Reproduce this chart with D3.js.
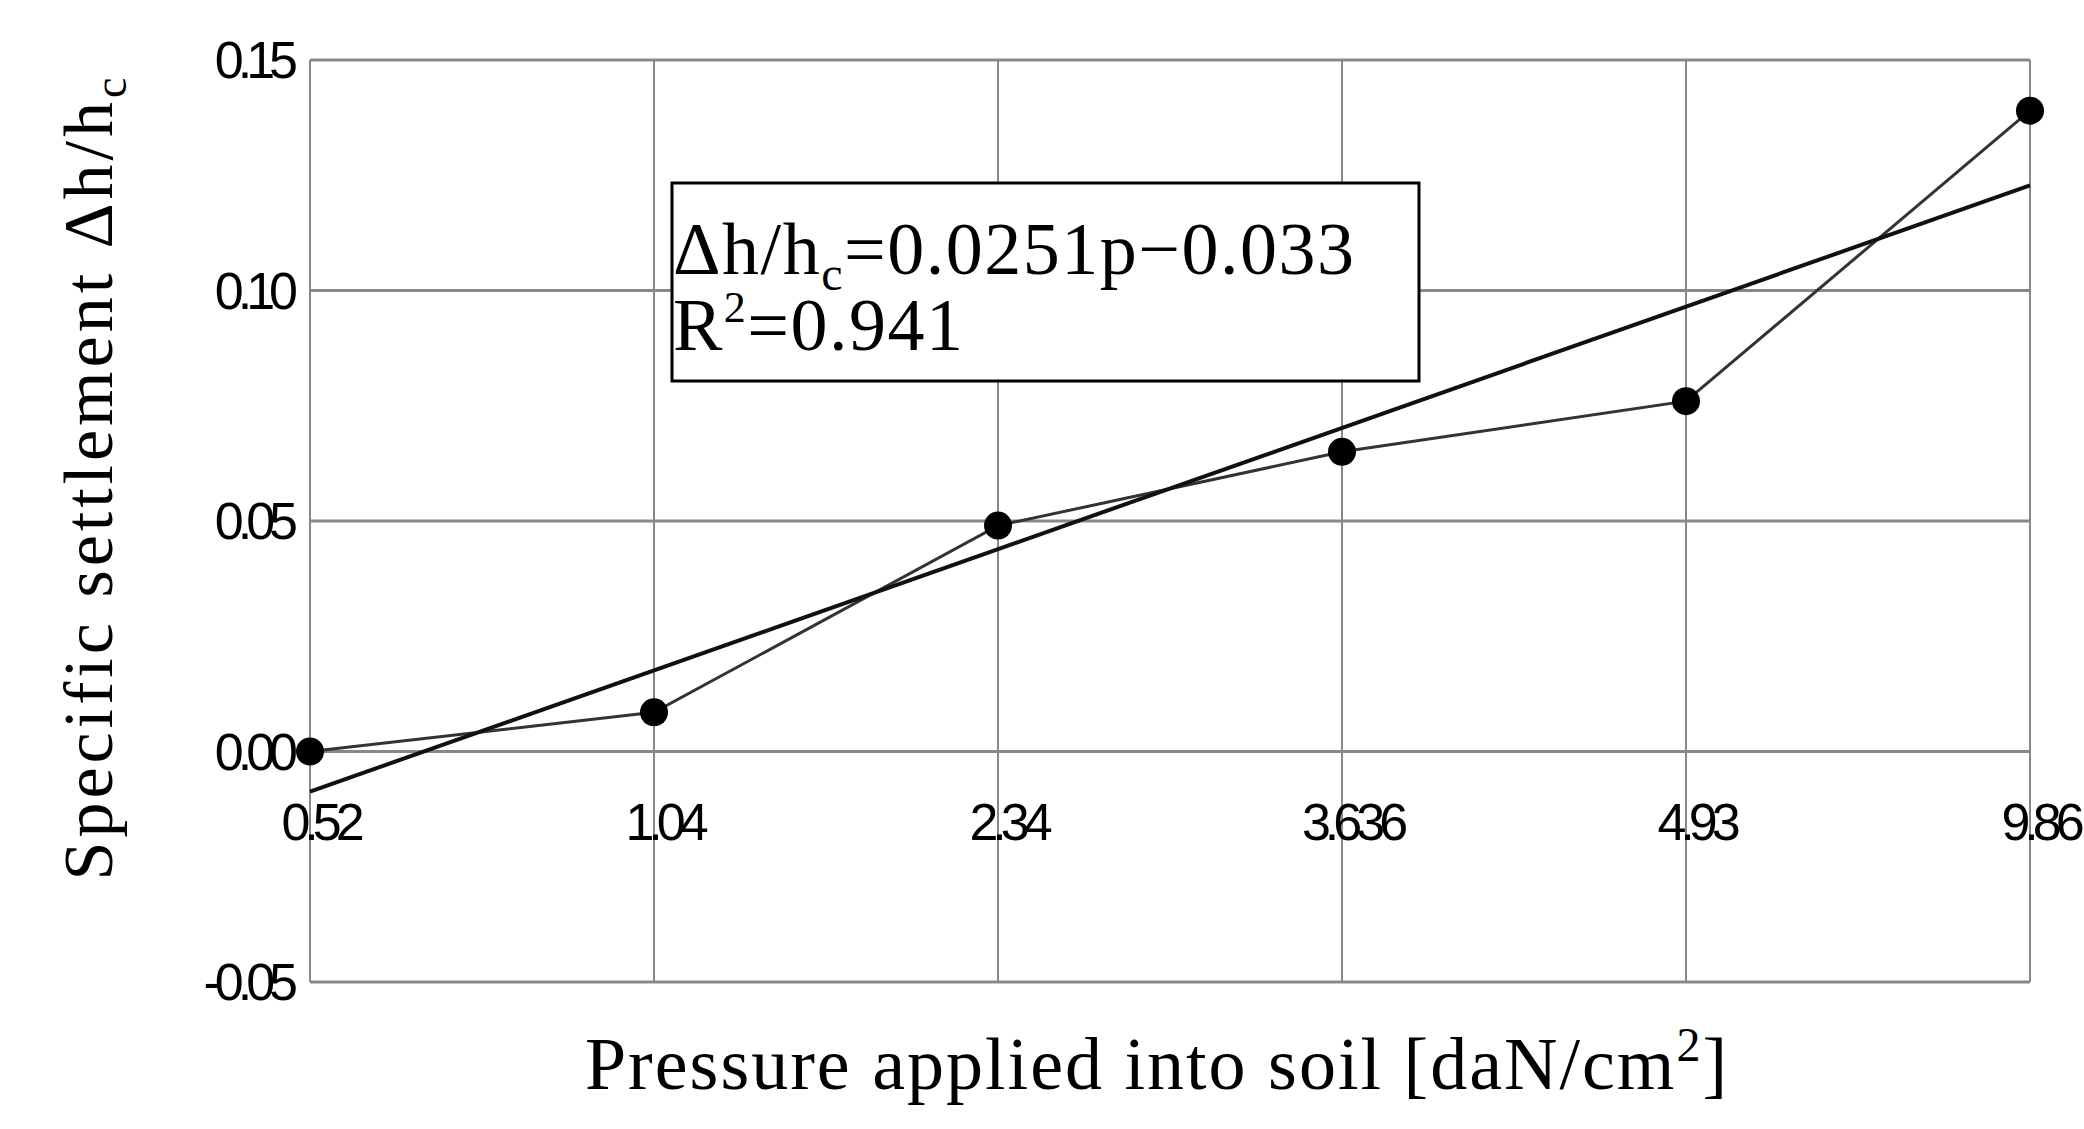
<!DOCTYPE html>
<html><head><meta charset="utf-8">
<script src="https://cdn.jsdelivr.net/npm/d3@7"></script>
<style>body{margin:0;background:#fff}</style></head>
<body><svg id="c" width="2084" height="1129"></svg>
<script>
const categories=["0.52","1.04","2.34","3.636","4.93","9.86"];
const settlement=[0.0,0.0085,0.049,0.065,0.076,0.139];
const trendEnds=[-0.0087,0.1228];
const yTicks=[-0.05,0,0.05,0.10,0.15];
const yTickLabels=["-0.05","0.00","0.05","0.10","0.15"];

const svg=d3.select("#c");
const L=310,R=2030,T=60,B=982;
const x=d3.scalePoint().domain(categories).range([L,R]);
const y=d3.scaleLinear().domain([-0.05,0.15]).range([B,T]);
const g=svg.append("g");
g.selectAll(".hg").data(yTicks).join("line").attr("x1",L).attr("x2",R)
 .attr("y1",d=>y(d)).attr("y2",d=>y(d)).attr("stroke","#888").attr("stroke-width",3);
g.selectAll(".vg").data(categories).join("line").attr("x1",d=>x(d)).attr("x2",d=>x(d))
 .attr("y1",T).attr("y2",B).attr("stroke","#888").attr("stroke-width",2);
g.selectAll(".yt").data(yTicks).join("text").attr("x",L-18).attr("y",d=>y(d)+18)
 .attr("text-anchor","end").attr("font-family","Liberation Sans").attr("font-size",52)
 .attr("letter-spacing",-6).text((d,i)=>yTickLabels[i]);
g.selectAll(".xt").data(categories).join("text").attr("x",d=>x(d)+10).attr("y",y(0)+88)
 .attr("text-anchor","middle").attr("font-family","Liberation Sans").attr("font-size",52)
 .attr("letter-spacing",-6).text(d=>d);
const line=d3.line().x((d,i)=>x(categories[i])).y(d=>y(d));
g.append("path").datum(settlement).attr("d",line).attr("fill","none").attr("stroke","#333").attr("stroke-width",3);
g.append("line").attr("x1",x(categories[0])).attr("x2",x(categories[5]))
 .attr("y1",y(trendEnds[0])).attr("y2",y(trendEnds[1])).attr("stroke","#111").attr("stroke-width",4);
g.selectAll("circle").data(settlement).join("circle").attr("cx",(d,i)=>x(categories[i])).attr("cy",d=>y(d))
 .attr("r",14).attr("fill","#000");
g.append("rect").attr("x",672).attr("y",183).attr("width",747).attr("height",198)
 .attr("fill","#fff").attr("stroke","#000").attr("stroke-width",3);
const f="Liberation Serif";
const t1=g.append("text").attr("x",673).attr("y",274).attr("font-family",f).attr("font-size",74).attr("letter-spacing",1.5);
t1.append("tspan").text("Δh/h");
t1.append("tspan").attr("font-size",48).attr("dy",16).text("c");
t1.append("tspan").attr("dy",-16).text("=0.0251p−0.033");
const t2=g.append("text").attr("x",673).attr("y",350).attr("font-family",f).attr("font-size",74).attr("letter-spacing",1.5);
t2.append("tspan").text("R");
t2.append("tspan").attr("font-size",44).attr("dy",-28).text("2");
t2.append("tspan").attr("dy",28).text("=0.941");
const yt=g.append("text").attr("transform","translate(112,477) rotate(-90)").attr("text-anchor","middle")
 .attr("font-family",f).attr("font-size",70).attr("letter-spacing",4);
yt.append("tspan").text("Specific settlement Δh/h");
yt.append("tspan").attr("font-size",46).attr("dy",14).text("c");
const xt=g.append("text").attr("x",1157).attr("y",1089).attr("text-anchor","middle").attr("font-family",f).attr("font-size",74).attr("letter-spacing",2);
xt.append("tspan").text("Pressure applied into soil [daN/cm");
xt.append("tspan").attr("font-size",48).attr("dy",-28).text("2");
xt.append("tspan").attr("dy",28).text("]");
</script></body></html>
